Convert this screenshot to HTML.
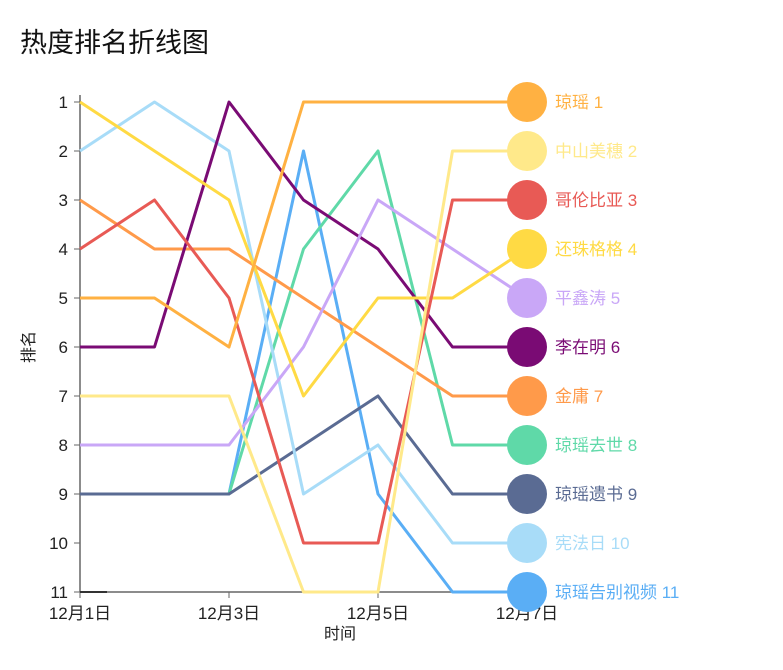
<!DOCTYPE html>
<html><head><meta charset="utf-8"><style>
body{margin:0;background:#fff;width:783px;height:665px;overflow:hidden;font-family:"Liberation Sans","Noto Sans CJK SC",sans-serif}
</style></head><body>
<svg id="chart" width="783" height="665" xmlns="http://www.w3.org/2000/svg" font-family="Liberation Sans, Noto Sans CJK SC, sans-serif">
<text x="20" y="52" font-size="27" fill="#111">热度排名折线图</text>
<g id="axes"></g><g id="lines"></g><g id="legend"></g>
</svg>
<script>
const days=["12月1日","12月2日","12月3日","12月4日","12月5日","12月6日","12月7日"];
const xTicks=["12月1日","12月3日","12月5日","12月7日"];
const rankTicks=[1,2,3,4,5,6,7,8,9,10,11];
const names=["琼瑶","中山美穗","哥伦比亚","还珠格格","平鑫涛","李在明","金庸","琼瑶去世","琼瑶遗书","宪法日","琼瑶告别视频"];
const colors=["#FFB142","#FFE98A","#E85A55","#FFDA44","#C9A7F7","#7A0B74","#FF9A4A","#5FD9A8","#5A6B93","#A8DCF8","#5AAEF5"];
const s0=[5,5,6,1,1,1,1];
const s1=[7,7,7,11,11,2,2];
const s2=[4,3,5,10,10,3,3];
const s3=[1,2,3,7,5,5,4];
const s4=[8,8,8,6,3,4,5];
const s5=[6,6,1,3,4,6,6];
const s6=[3,4,4,5,6,7,7];
const s7=[9,9,9,4,2,8,8];
const s8=[9,9,9,8,7,9,9];
const s9=[2,1,2,9,8,10,10];
const s10=[9,9,9,2,9,11,11];
const series=[s0,s1,s2,s3,s4,s5,s6,s7,s8,s9,s10];
const drawOrder=[10,7,8,9,6,5,4,3,2,1,0];
const NS="http://www.w3.org/2000/svg";
const x=i=>80+i*74.5;
const y=r=>102+(r-1)*49;
function mk(tag,attrs,parent,text){const e=document.createElementNS(NS,tag);for(const k in attrs)e.setAttribute(k,attrs[k]);if(text!==undefined)e.textContent=text;parent.appendChild(e);return e;}
const ax=document.getElementById('axes');
let e=mk('line',{x1:80,y1:95,x2:80,y2:592,stroke:'#666','stroke-width':1.5},ax);

e=mk('line',{x1:80,y1:592,x2:527,y2:592,stroke:'#666','stroke-width':1.5},ax);

rankTicks.forEach(r=>{
  mk('line',{x1:74,y1:y(r),x2:80,y2:y(r),stroke:'#666'},ax);
  const t=mk('text',{x:68,y:y(r)+6,'text-anchor':'end','font-size':17,fill:'#222'},ax,String(r));
  
});
xTicks.forEach(d=>{
  const i=days.indexOf(d);
  mk('line',{x1:x(i),y1:592,x2:x(i),y2:598,stroke:'#666'},ax);
  const t=mk('text',{x:x(i),y:619,'text-anchor':'middle','font-size':17,fill:'#222'},ax,d);
  
});
e=mk('text',{x:340,y:639,'text-anchor':'middle','font-size':16,fill:'#222'},ax,'时间');

e=mk('text',{x:0,y:0,'text-anchor':'middle','font-size':16,fill:'#222',transform:'translate(34,347) rotate(-90)'},ax,'排名');

mk('line',{x1:80,y1:592,x2:107,y2:592,stroke:'#333','stroke-width':2},ax);
const lg=document.getElementById('lines'),leg=document.getElementById('legend');
drawOrder.forEach(k=>{
  const pts=series[k].map((r,i)=>x(i)+','+y(r)).join(' ');
  const p=mk('polyline',{points:pts,fill:'none',stroke:colors[k],'stroke-width':3,'stroke-linejoin':'round'},lg);
  
  
});
series.forEach((s,k)=>{
  const last=s[s.length-1];
  const c=mk('circle',{cx:x(6),cy:y(last),r:20,fill:colors[k]},leg);
  
  
  const t=mk('text',{x:555,y:y(last)+6,'font-size':17,fill:colors[k]},leg,names[k]+' '+last);
  
  
});
</script>
</body></html>
